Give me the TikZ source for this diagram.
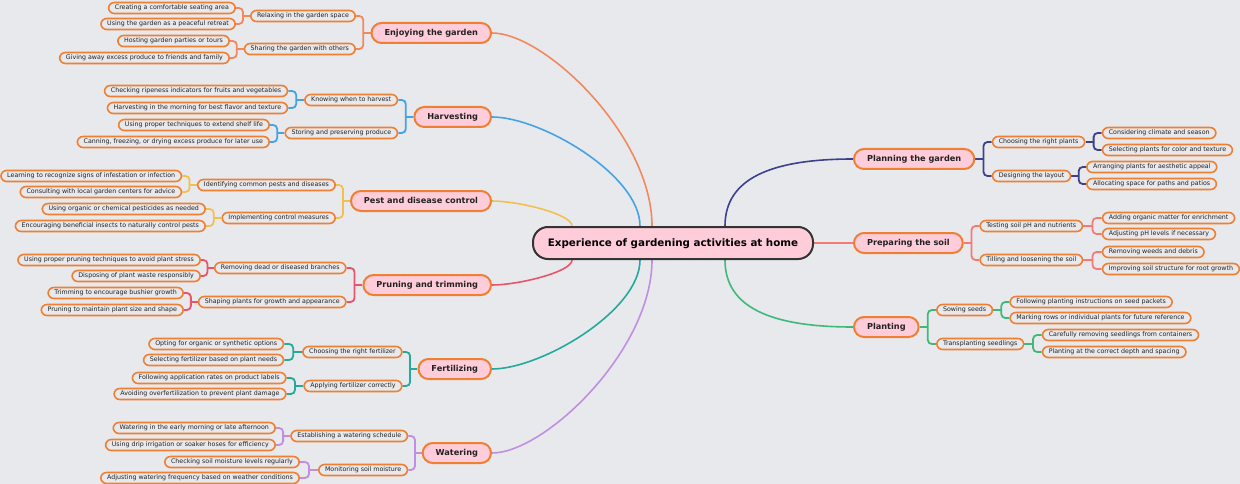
\documentclass[tikz,border=0pt]{standalone}
\usepackage{fontspec}
\setmainfont{DejaVu Sans}
\usetikzlibrary{calc,backgrounds}
\definecolor{bg}{HTML}{E8E9ED}
\definecolor{ob}{HTML}{EF7F33}
\definecolor{pk}{HTML}{FFCCDA}
\definecolor{tx}{HTML}{222222}
\definecolor{rootb}{HTML}{333333}
\definecolor{cenjoy}{HTML}{F2895E}
\definecolor{charv}{HTML}{45A3E5}
\definecolor{cpest}{HTML}{F2C04F}
\definecolor{cprune}{HTML}{E8546A}
\definecolor{cfert}{HTML}{25A99B}
\definecolor{cwater}{HTML}{C08FE0}
\definecolor{cplan}{HTML}{3C418F}
\definecolor{csoil}{HTML}{F47A78}
\definecolor{cplant}{HTML}{3EB97A}
\newcommand\lfork[4]{%
  \coordinate (#2-j) at ($(#2.west)!0.5!(#3.east|-#2.west)$);
  \draw[#1] (#2.west) -- (#2-j);
  \draw[#1, rounded corners=4pt] (#2-j) |- (#3.east);
  \draw[#1, rounded corners=4pt] (#2-j) |- (#4.east);
}
\newcommand\rfork[4]{%
  \coordinate (#2-j) at ($(#2.east)!0.5!(#3.west|-#2.east)$);
  \draw[#1] (#2.east) -- (#2-j);
  \draw[#1, rounded corners=4pt] (#2-j) |- (#3.west);
  \draw[#1, rounded corners=4pt] (#2-j) |- (#4.west);
}
\begin{document}
\begin{tikzpicture}[x=1pt,y=-1pt,
  leaf/.style={draw=ob, line width=1.6pt, rounded corners=5.8pt, inner xsep=6.3pt, inner ysep=0pt,
    minimum height=11pt, text height=4.7pt, text depth=1.3pt, font=\fontsize{6.3}{7}\selectfont, text=tx},
  topic/.style={draw=ob, fill=pk, line width=2pt, rounded corners=10pt, inner xsep=13pt, inner ysep=0pt,
    minimum height=20pt, text height=6.2pt, text depth=1.7pt, font=\bfseries\fontsize{8.2}{9}\selectfont, text=tx},
  rootn/.style={draw=rootb, fill=pk, line width=2pt, rounded corners=15pt, minimum width=280pt,
    minimum height=32pt, inner sep=0pt, text height=8pt, text depth=2pt, font=\bfseries\fontsize{10.3}{12}\selectfont, text=black},
  br/.style={draw=#1, line width=1.8pt},
  cv/.style={draw=#1, line width=1.6pt},
  L/.style={leaf, anchor=east},
  R/.style={leaf, anchor=west},
]
\useasboundingbox (0,0) rectangle (1240,484);

% root
\node[rootn] (root) at (673,243) {Experience of gardening activities at home};

% left main topics
\node[topic, anchor=east] (enjoy) at (492,33) {Enjoying the garden};
\node[topic, anchor=east] (harv) at (492,117) {Harvesting};
\node[topic, anchor=east] (pest) at (492,201) {Pest and disease control};
\node[topic, anchor=east] (prune) at (492,285) {Pruning and trimming};
\node[topic, anchor=east] (fert) at (492,369) {Fertilizing};
\node[topic, anchor=east] (water) at (492,453) {Watering};

% right main topics
\node[topic, anchor=west] (plan) at (853,159) {Planning the garden};
\node[topic, anchor=west] (soil) at (853,243) {Preparing the soil};
\node[topic, anchor=west] (plant) at (853,327) {Planting};

% left level 2
\node[L] (relax) at (356,16) {Relaxing in the garden space};
\node[L] (share) at (356,49) {Sharing the garden with others};
\node[L] (know) at (398.3,100) {Knowing when to harvest};
\node[L] (store) at (398.3,133) {Storing and preserving produce};
\node[L] (ident) at (336,185) {Identifying common pests and diseases};
\node[L] (impl) at (336,218) {Implementing control measures};
\node[L] (remove) at (346.7,268) {Removing dead or diseased branches};
\node[L] (shape) at (346.7,302) {Shaping plants for growth and appearance};
\node[L] (choosef) at (402.7,352) {Choosing the right fertilizer};
\node[L] (apply) at (402.7,386) {Applying fertilizer correctly};
\node[L] (estab) at (408.3,436) {Establishing a watering schedule};
\node[L] (monit) at (408.3,470) {Monitoring soil moisture};

% left level 3
\node[L] (e1) at (236,8) {Creating a comfortable seating area};
\node[L] (e2) at (236,24) {Using the garden as a peaceful retreat};
\node[L] (e3) at (230,41) {Hosting garden parties or tours};
\node[L] (e4) at (230,58) {Giving away excess produce to friends and family};
\node[L] (h1) at (288.3,91) {Checking ripeness indicators for fruits and vegetables};
\node[L] (h2) at (288.3,108) {Harvesting in the morning for best flavor and texture};
\node[L] (h3) at (270,125) {Using proper techniques to extend shelf life};
\node[L] (h4) at (270,142) {Canning, freezing, or drying excess produce for later use};
\node[L] (p1) at (182.3,176) {Learning to recognize signs of infestation or infection};
\node[L] (p2) at (182.3,192) {Consulting with local garden centers for advice};
\node[L] (p3) at (206,209) {Using organic or chemical pesticides as needed};
\node[L] (p4) at (206,226) {Encouraging beneficial insects to naturally control pests};
\node[L] (r1) at (201,260) {Using proper pruning techniques to avoid plant stress};
\node[L] (r2) at (201,276) {Disposing of plant waste responsibly};
\node[L] (r3) at (184,293) {Trimming to encourage bushier growth};
\node[L] (r4) at (184,310) {Pruning to maintain plant size and shape};
\node[L] (f1) at (284.3,344) {Opting for organic or synthetic options};
\node[L] (f2) at (284.3,360) {Selecting fertilizer based on plant needs};
\node[L] (f3) at (286.7,378) {Following application rates on product labels};
\node[L] (f4) at (286.7,394) {Avoiding overfertilization to prevent plant damage};
\node[L] (w1) at (276,428) {Watering in the early morning or late afternoon};
\node[L] (w2) at (276,445) {Using drip irrigation or soaker hoses for efficiency};
\node[L] (w3) at (300,462) {Checking soil moisture levels regularly};
\node[L] (w4) at (300,478) {Adjusting watering frequency based on weather conditions};

% right level 2
\node[R] (chp) at (991.7,142) {Choosing the right plants};
\node[R] (des) at (991.7,176) {Designing the layout};
\node[R] (test) at (979.3,226) {Testing soil pH and nutrients};
\node[R] (till) at (979.3,260) {Tilling and loosening the soil};
\node[R] (sow) at (936,310) {Sowing seeds};
\node[R] (trans) at (936,344) {Transplanting seedlings};

% right level 3
\node[R] (g1) at (1101.7,133) {Considering climate and season};
\node[R] (g2) at (1101.7,150) {Selecting plants for color and texture};
\node[R] (g3) at (1086,167) {Arranging plants for aesthetic appeal};
\node[R] (g4) at (1086,184) {Allocating space for paths and patios};
\node[R] (s1) at (1101.7,218) {Adding organic matter for enrichment};
\node[R] (s2) at (1101.7,234) {Adjusting pH levels if necessary};
\node[R] (s3) at (1101.7,252) {Removing weeds and debris};
\node[R] (s4) at (1101.7,269) {Improving soil structure for root growth};
\node[R] (t1) at (1009.3,302) {Following planting instructions on seed packets};
\node[R] (t2) at (1009.3,318) {Marking rows or individual plants for future reference};
\node[R] (t3) at (1041.7,335) {Carefully removing seedlings from containers};
\node[R] (t4) at (1041.7,352) {Planting at the correct depth and spacing};

\begin{pgfonlayer}{background}
\fill[bg] (0,0) rectangle (1240,484);
% main curves
\draw[cv=cenjoy] (enjoy.east) .. controls ($(enjoy.east)+(53,0)$) and ($(root.north)+(-21,-90)$) .. ($(root.north)+(-21,0)$);
\draw[cv=charv] (harv.east) .. controls ($(harv.east)+(49,0)$) and ($(root.north)+(-33,-51)$) .. ($(root.north)+(-33,0)$);
\draw[cv=cpest] (pest.east) .. controls ($(pest.east)+(26,0)$) and ($(root.north)+(-101,-12)$) .. ($(root.north)+(-101,0)$);
\draw[cv=cprune] (prune.east) .. controls ($(prune.east)+(26,0)$) and ($(root.south)+(-101,12)$) .. ($(root.south)+(-101,0)$);
\draw[cv=cfert] (fert.east) .. controls ($(fert.east)+(49,0)$) and ($(root.south)+(-33,51)$) .. ($(root.south)+(-33,0)$);
\draw[cv=cwater] (water.east) .. controls ($(water.east)+(53,0)$) and ($(root.south)+(-21,90)$) .. ($(root.south)+(-21,0)$);
\draw[cv=cplan] ($(root.north)+(52,0)$) .. controls ($(root.north)+(52,-47)$) and ($(plan.west)+(-83,0)$) .. (plan.west);
\draw[cv=csoil] (root.east) -- (soil.west);
\draw[cv=cplant] ($(root.south)+(52,0)$) .. controls ($(root.south)+(52,47)$) and ($(plant.west)+(-83,0)$) .. (plant.west);
% forks left
\lfork{br=cenjoy}{enjoy}{relax}{share}
\lfork{br=cenjoy}{relax}{e1}{e2}
\lfork{br=cenjoy}{share}{e3}{e4}
\lfork{br=charv}{harv}{know}{store}
\lfork{br=charv}{know}{h1}{h2}
\lfork{br=charv}{store}{h3}{h4}
\lfork{br=cpest}{pest}{ident}{impl}
\lfork{br=cpest}{ident}{p1}{p2}
\lfork{br=cpest}{impl}{p3}{p4}
\lfork{br=cprune}{prune}{remove}{shape}
\lfork{br=cprune}{remove}{r1}{r2}
\lfork{br=cprune}{shape}{r3}{r4}
\lfork{br=cfert}{fert}{choosef}{apply}
\lfork{br=cfert}{choosef}{f1}{f2}
\lfork{br=cfert}{apply}{f3}{f4}
\lfork{br=cwater}{water}{estab}{monit}
\lfork{br=cwater}{estab}{w1}{w2}
\lfork{br=cwater}{monit}{w3}{w4}
% forks right
\rfork{br=cplan}{plan}{chp}{des}
\rfork{br=cplan}{chp}{g1}{g2}
\rfork{br=cplan}{des}{g3}{g4}
\rfork{br=csoil}{soil}{test}{till}
\rfork{br=csoil}{test}{s1}{s2}
\rfork{br=csoil}{till}{s3}{s4}
\rfork{br=cplant}{plant}{sow}{trans}
\rfork{br=cplant}{sow}{t1}{t2}
\rfork{br=cplant}{trans}{t3}{t4}
\end{pgfonlayer}
\end{tikzpicture}
\end{document}
